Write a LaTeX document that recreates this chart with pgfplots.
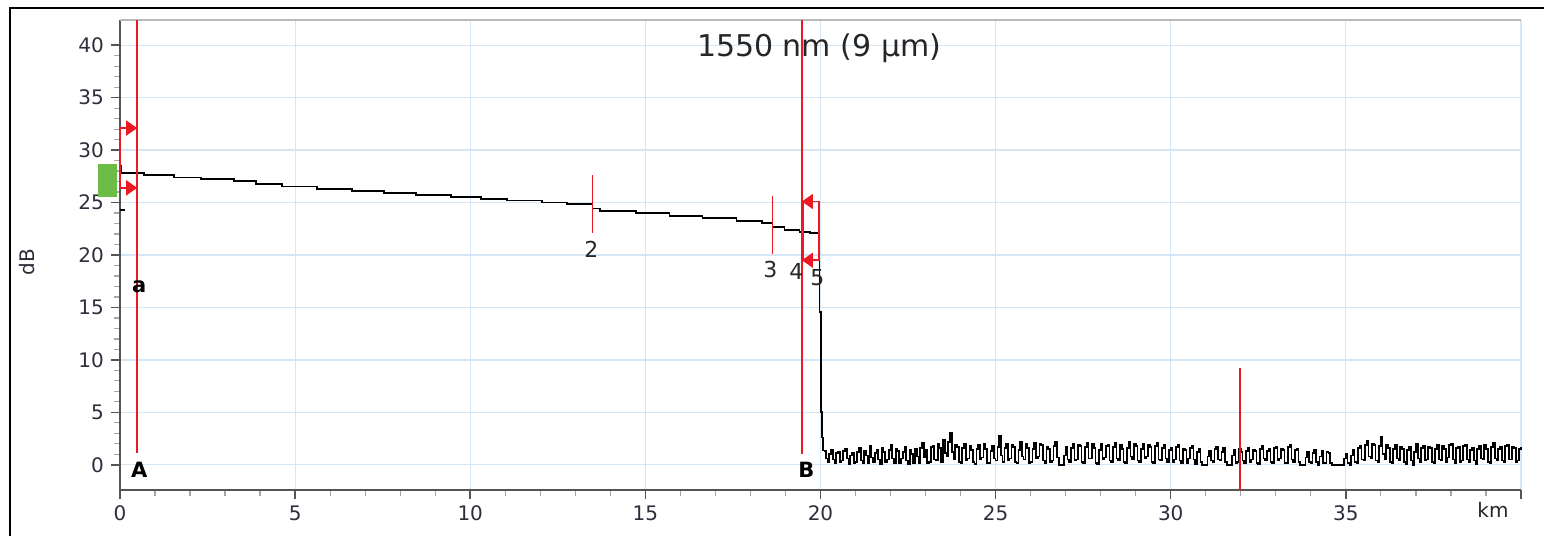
\documentclass[border=0pt]{standalone}
\usepackage{fontspec}
\setmainfont{DejaVu Sans}
\usepackage{pgfplots}
\pgfplotsset{compat=1.18}
\usetikzlibrary{arrows.meta}
\definecolor{gridblue}{RGB}{212,229,245}
\definecolor{mred}{RGB}{235,25,35}
\definecolor{mgreen}{RGB}{108,189,69}
\definecolor{axgray}{RGB}{85,85,85}
\definecolor{lbl}{RGB}{45,45,60}
\begin{document}
\begin{tikzpicture}
\path[use as bounding box] (-60pt,-23pt) rectangle (712pt,245pt);
\begin{axis}[
 scale only axis, width=700.5pt, height=235pt,
 xmin=0, xmax=40, ymin=-2.4, ymax=42.4,
 axis x line*=bottom, axis y line*=left,
 axis line style={axgray, line width=0.75pt},
 xtick={0,5,...,40}, xticklabels={0,5,10,15,20,25,30,35,{}},
 ytick={0,5,...,40}, yticklabels={0,5,10,15,20,25,30,35,40},
 minor x tick num=4, minor y tick num=4,
 tick align=outside,
 major tick length=4.5pt, minor tick length=3pt,
 every major tick/.append style={axgray, line width=0.75pt},
 every minor tick/.append style={gray!70, line width=0.6pt},
 grid=major, major grid style={gridblue, line width=0.6pt},
 ticklabel style={font=\fontsize{10}{12}\selectfont, text=lbl},
 /pgf/number format/assume math mode=true,
 clip=false,
]
\draw[gray!55, line width=0.6pt] (rel axis cs:0,1) -- (rel axis cs:1,1);

% main trace
\addplot[const plot, black, line width=0.9pt] coordinates {
(0.00,28.5) (0.03,27.8) (0.69,27.62) (1.54,27.38) (2.31,27.24) (3.26,27.05)
(3.89,26.76) (4.63,26.52) (5.63,26.29) (6.63,26.13) (7.54,25.94) (8.46,25.75)
(9.46,25.56) (10.31,25.37) (11.06,25.20) (12.06,25.00) (12.77,24.83) (13.49,24.44)
(13.71,24.19) (14.74,23.97) (15.69,23.71) (16.63,23.50) (17.60,23.24) (18.34,23.08)
(18.63,22.70) (18.97,22.38) (19.40,22.22) (19.70,22.10) (19.97,14.6) (20.02,5.0)
(20.05,2.6) (20.08,1.3)
};
% noise floor
\addplot[const plot, black, line width=0.85pt] coordinates {
(20.10,1.3) (20.15,0.6) (20.20,0.3) (20.25,1.0) (20.30,1.4) (20.35,0.5) (20.40,0.2) (20.45,1.1) (20.50,1.2) (20.55,0.3) (20.60,0.4) (20.65,1.3) (20.70,1.5) (20.75,0.6) (20.80,0.1) (20.85,0.9) (20.90,1.1) (20.95,0.2) (21.00,0.3) (21.05,1.2)
(21.10,1.6) (21.15,0.4) (21.20,0.2) (21.25,1.3) (21.30,0.9) (21.35,0.2) (21.40,1.8) (21.45,0.7) (21.50,0.3) (21.55,1.1) (21.60,1.4) (21.65,0.5) (21.70,0.1) (21.75,1.6) (21.80,1.2) (21.85,0.3) (21.90,0.5) (21.95,1.4) (22.00,1.9) (22.05,0.6)
(22.10,0.2) (22.15,1.5) (22.20,1.3) (22.25,0.2) (22.30,0.6) (22.35,1.2) (22.40,1.7) (22.45,0.4) (22.50,0.1) (22.55,1.4) (22.60,1.0) (22.65,0.2) (22.70,1.5) (22.75,0.8) (22.80,0.2) (22.85,1.6) (22.90,2.1) (22.95,0.7) (23.00,1.4) (23.05,0.2)
(23.10,0.3) (23.15,1.7) (23.20,1.8) (23.25,0.5) (23.30,0.4) (23.35,2.0) (23.40,1.6) (23.45,0.3) (23.50,2.4) (23.55,1.1) (23.60,0.8) (23.65,2.2) (23.70,3.0) (23.75,1.2) (23.80,0.5) (23.85,1.9) (23.90,1.7) (23.95,0.3) (24.00,0.2) (24.05,1.6)
(24.10,2.0) (24.15,0.4) (24.20,0.6) (24.25,1.8) (24.30,1.4) (24.35,0.3) (24.40,0.1) (24.45,1.5) (24.50,1.9) (24.55,0.5) (24.60,0.7) (24.65,2.0) (24.70,1.5) (24.75,0.2) (24.80,0.2) (24.85,1.3) (24.90,1.8) (24.95,0.6) (25.00,0.4) (25.05,1.7)
(25.10,2.8) (25.15,0.9) (25.20,0.3) (25.25,1.6) (25.30,2.0) (25.35,0.4) (25.40,0.6) (25.45,1.9) (25.50,1.7) (25.55,0.3) (25.60,0.2) (25.65,1.4) (25.70,2.2) (25.75,0.8) (25.80,0.5) (25.85,2.0) (25.90,1.6) (25.95,0.2) (26.00,0.3) (26.05,1.5)
(26.10,2.1) (26.15,0.6) (26.20,0.8) (26.25,2.0) (26.30,1.9) (26.35,0.4) (26.40,0.2) (26.45,1.7) (26.50,1.5) (26.55,0.3) (26.60,0.4) (26.65,1.8) (26.70,2.2) (26.75,0.7) (26.80,0.0) (26.85,0.0) (26.90,0.0) (26.95,0.9) (27.00,1.7) (27.05,0.5)
(27.10,0.3) (27.15,1.6) (27.20,2.0) (27.25,0.4) (27.30,0.5) (27.35,1.9) (27.40,1.8) (27.45,0.3) (27.50,0.2) (27.55,1.7) (27.60,2.1) (27.65,0.6) (27.70,0.6) (27.75,2.0) (27.80,1.6) (27.85,0.2) (27.90,0.1) (27.95,1.4) (28.00,2.0) (28.05,0.5)
(28.10,0.7) (28.15,1.8) (28.20,1.9) (28.25,0.4) (28.30,0.3) (28.35,1.7) (28.40,2.1) (28.45,0.6) (28.50,0.4) (28.55,1.9) (28.60,1.5) (28.65,0.3) (28.70,0.2) (28.75,1.6) (28.80,2.2) (28.85,0.8) (28.90,0.5) (28.95,2.0) (29.00,1.8) (29.05,0.4)
(29.10,0.3) (29.15,1.5) (29.20,2.0) (29.25,0.6) (29.30,0.8) (29.35,1.9) (29.40,1.7) (29.45,0.3) (29.50,0.2) (29.55,1.8) (29.60,2.1) (29.65,0.5) (29.70,0.4) (29.75,1.6) (29.80,1.9) (29.85,0.6) (29.90,0.3) (29.95,1.4) (30.00,1.6) (30.05,0.3)
(30.10,0.5) (30.15,1.7) (30.20,1.9) (30.25,0.4) (30.30,0.2) (30.35,1.5) (30.40,1.4) (30.45,0.2) (30.50,0.6) (30.55,1.6) (30.60,1.8) (30.65,0.5) (30.70,0.1) (30.75,1.2) (30.80,1.5) (30.85,0.3) (30.90,0.0) (30.95,0.0) (31.00,0.0) (31.05,0.8)
(31.10,1.3) (31.15,0.4) (31.20,0.3) (31.25,1.5) (31.30,1.7) (31.35,0.5) (31.40,0.4) (31.45,1.2) (31.50,1.6) (31.55,0.3) (31.60,0.0) (31.65,0.0) (31.70,0.0) (31.75,0.9) (31.80,1.4) (31.85,0.2) (31.90,0.3) (31.95,1.5) (32.00,1.2) (32.05,0.4)
(32.10,0.2) (32.15,1.3) (32.20,1.6) (32.25,0.3) (32.30,0.5) (32.35,1.4) (32.40,1.3) (32.45,0.2) (32.50,0.1) (32.55,1.5) (32.60,1.8) (32.65,0.6) (32.70,0.4) (32.75,1.3) (32.80,1.5) (32.85,0.3) (32.90,0.2) (32.95,1.6) (33.00,1.7) (33.05,0.4)
(33.10,0.6) (33.15,1.5) (33.20,1.4) (33.25,0.2) (33.30,0.2) (33.35,1.7) (33.40,1.9) (33.45,0.5) (33.50,0.3) (33.55,1.4) (33.60,1.5) (33.65,0.3) (33.70,0.0) (33.75,0.0) (33.80,0.0) (33.85,0.7) (33.90,1.2) (33.95,0.3) (34.00,0.2) (34.05,1.1)
(34.10,1.4) (34.15,0.3) (34.20,0.0) (34.25,0.8) (34.30,1.3) (34.35,0.2) (34.40,0.2) (34.45,1.2) (34.50,1.1) (34.55,0.2) (34.60,0.0) (34.65,0.0) (34.70,0.0) (34.75,0.0) (34.80,0.0) (34.85,0.0) (34.90,0.0) (34.95,0.6) (35.00,1.0) (35.05,0.2)
(35.10,0.0) (35.15,0.9) (35.20,1.4) (35.25,0.3) (35.30,0.2) (35.35,1.6) (35.40,1.8) (35.45,0.5) (35.50,0.4) (35.55,1.9) (35.60,2.3) (35.65,0.8) (35.70,0.6) (35.75,2.0) (35.80,1.9) (35.85,0.4) (35.90,0.3) (35.95,1.8) (36.00,2.7) (36.05,1.0)
(36.10,0.5) (36.15,1.9) (36.20,1.6) (36.25,0.3) (36.30,0.2) (36.35,1.5) (36.40,1.9) (36.45,0.6) (36.50,0.4) (36.55,1.7) (36.60,1.5) (36.65,0.3) (36.70,0.1) (36.75,1.4) (36.80,1.7) (36.85,0.4) (36.90,0.0) (36.95,1.2) (37.00,2.0) (37.05,0.6)
(37.10,0.3) (37.15,1.6) (37.20,1.8) (37.25,0.4) (37.30,0.5) (37.35,1.7) (37.40,1.6) (37.45,0.3) (37.50,0.2) (37.55,1.5) (37.60,1.9) (37.65,0.5) (37.70,0.4) (37.75,1.8) (37.80,1.5) (37.85,0.3) (37.90,0.7) (37.95,1.9) (38.00,2.0) (38.05,0.5)
(38.10,0.2) (38.15,1.6) (38.20,1.7) (38.25,0.3) (38.30,0.4) (38.35,1.8) (38.40,1.9) (38.45,0.5) (38.50,0.3) (38.55,1.4) (38.60,1.6) (38.65,0.4) (38.70,0.1) (38.75,1.5) (38.80,1.8) (38.85,0.6) (38.90,0.5) (38.95,1.9) (39.00,1.5) (39.05,0.3)
(39.10,0.2) (39.15,1.7) (39.20,2.1) (39.25,0.6) (39.30,0.4) (39.35,1.5) (39.40,1.7) (39.45,0.4) (39.50,0.3) (39.55,1.8) (39.60,1.9) (39.65,0.5) (39.70,0.5) (39.75,1.7) (39.80,1.6) (39.85,0.3) (39.90,0.4) (39.95,1.5) (40.00,1.7)
};
% small dash near start
\addplot[black, line width=0.75pt] coordinates {(0.0,24.3) (0.13,24.3)};

% green launch box
\fill[mgreen] (axis cs:-0.63,25.5) rectangle (axis cs:-0.09,28.7);

% red markers
\addplot[mred, line width=0.85pt] coordinates {(0.49,42.4) (0.49,1.1)};
\addplot[mred, line width=0.85pt] coordinates {(0.49,32.1) (0,32.1) (0,26.4) (0.49,26.4)};
\addplot[mred, line width=0.85pt, -{Triangle[length=5.5pt,width=7.5pt]}] coordinates {(0.2,32.1) (0.49,32.1)};
\addplot[mred, line width=0.85pt, -{Triangle[length=5.5pt,width=7.5pt]}] coordinates {(0.2,26.4) (0.49,26.4)};
\addplot[mred, line width=0.85pt] coordinates {(13.49,27.6) (13.49,22.1)};
\addplot[mred, line width=0.85pt] coordinates {(18.63,25.6) (18.63,20.1)};
\addplot[mred, line width=0.85pt] coordinates {(19.47,42.4) (19.47,1.0)};
\addplot[mred, line width=1.6pt] coordinates {(19.49,25.1) (19.49,19.5)};
\addplot[mred, line width=0.85pt] coordinates {(19.49,25.1) (19.96,25.1) (19.96,19.5) (19.49,19.5)};
\addplot[mred, line width=0.85pt, -{Triangle[length=5.5pt,width=7.5pt]}] coordinates {(19.8,25.1) (19.47,25.1)};
\addplot[mred, line width=0.85pt, -{Triangle[length=5.5pt,width=7.5pt]}] coordinates {(19.8,19.5) (19.47,19.5)};
\addplot[mred, line width=0.9pt] coordinates {(31.97,9.2) (31.97,-2.4)};

% labels
\node[font=\fontsize{15}{17}\selectfont, text=black!85] at (axis cs:19.96,39.7) {1550 nm (9 µm)};
\node[font=\bfseries\fontsize{10.5}{12}\selectfont] at (axis cs:0.55,17.0) {a};
\node[font=\bfseries\fontsize{10.5}{12}\selectfont] at (axis cs:0.55,-0.5) {A};
\node[font=\bfseries\fontsize{10.5}{12}\selectfont] at (axis cs:19.6,-0.5) {B};
\node[font=\fontsize{11}{12}\selectfont, text=black!85] at (axis cs:13.46,20.5) {2};
\node[font=\fontsize{11}{12}\selectfont, text=black!85] at (axis cs:18.57,18.6) {3};
\node[font=\fontsize{11}{12}\selectfont, text=black!85] at (axis cs:19.31,18.4) {4};
\node[font=\fontsize{11}{12}\selectfont, text=black!85] at (axis cs:19.91,17.8) {5};
\node[font=\fontsize{10}{12}\selectfont, text=lbl, rotate=90] at (axis cs:-2.65,19.3) {dB};
\node[font=\fontsize{10}{12}\selectfont, text=black!85] at (axis cs:39.2,-4.3) {km};
\end{axis}
\draw[black, line width=1pt] (-55pt,-23pt) -- (-55pt,241pt) -- (712pt,241pt);
\end{tikzpicture}
\end{document}
